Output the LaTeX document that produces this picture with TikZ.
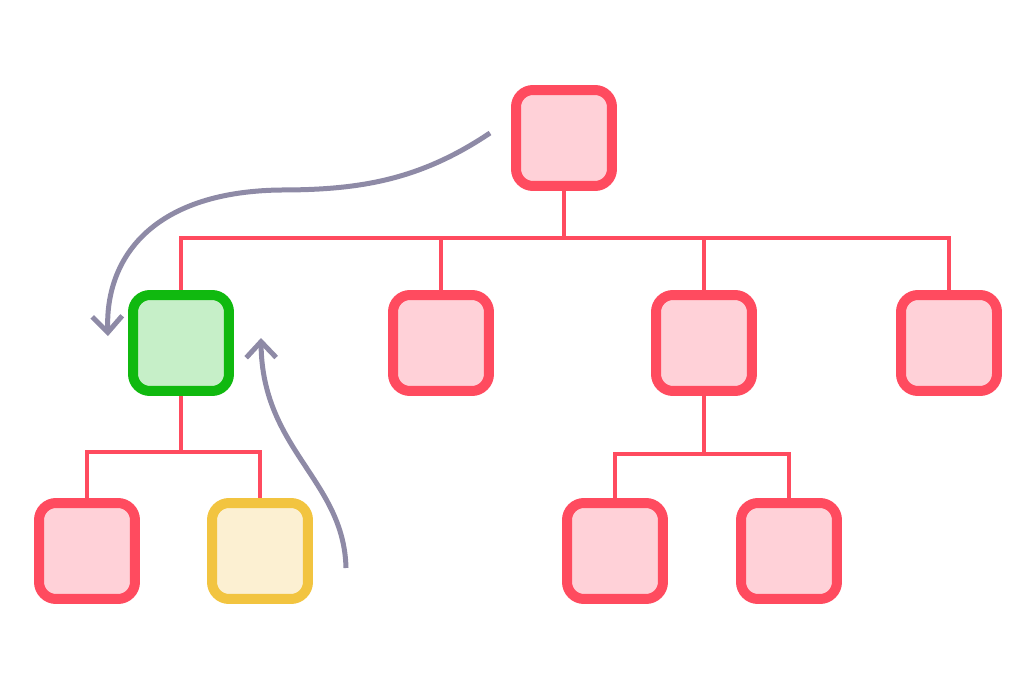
\documentclass[tikz,border=0pt]{standalone}
\usetikzlibrary{arrows.meta}
\definecolor{boxred}{HTML}{FF4B5F}
\definecolor{fillred}{HTML}{FFD1D8}
\definecolor{boxgreen}{HTML}{10B90F}
\definecolor{fillgreen}{HTML}{C6EFC8}
\definecolor{boxyellow}{HTML}{F2C440}
\definecolor{fillyellow}{HTML}{FCF0D2}
\definecolor{movegrey}{HTML}{8E8AA6}
\begin{document}
\begin{tikzpicture}[x=0.02cm,y=-0.02cm,
	box/.style={draw=boxred,fill=fillred,line width=0.2cm,rounded corners=0.34cm,minimum size=1.92cm,inner sep=0pt},
	greenbox/.style={box,draw=boxgreen,fill=fillgreen},
	yellowbox/.style={box,draw=boxyellow,fill=fillyellow},
	link/.style={draw=boxred,line width=0.09cm},
	move/.style={draw=movegrey,line width=0.1cm,-{Straight Barb[length=0.32cm,width=0.6cm]}}]
		\useasboundingbox (0,0) rectangle (1035,690);
		\node[box] (r) at (564,138) {};
		\node[greenbox] (a) at (181,343) {};
		\node[box] (b) at (441,343) {};
		\node[box] (c) at (704,343) {};
		\node[box] (d) at (949,343) {};
		\node[box] (a1) at (87,551) {};
		\node[yellowbox] (a2) at (260,551) {};
		\node[box] (c1) at (615,551) {};
		\node[box] (c2) at (789,551) {};
		\coordinate (j) at (564,238);
		\coordinate (ja) at (181,452);
		\coordinate (jc) at (704,454);
		\draw[link] (r) -- (j);
		\draw[link] (j) -| (a); \draw[link] (j) -| (b); \draw[link] (j) -| (c); \draw[link] (j) -| (d);
		\draw[link] (a) -- (ja);
		\draw[link] (ja) -| (a1); \draw[link] (ja) -| (a2);
		\draw[link] (c) -- (jc);
		\draw[link] (jc) -| (c1); \draw[link] (jc) -| (c2);
		\coordinate (s1) at (490,133);
		\coordinate (t1) at (108,336);
		\coordinate (s2) at (346,568);
		\coordinate (t2) at (261,338);
		\draw[move] (s1) .. controls (420,180) and (360,190) .. (280,190) .. controls (150,192) and (105,260) .. (t1);
		\draw[move] (s2) .. controls (344,480) and (262,450) .. (t2);
	    \end{tikzpicture}
\end{document}
